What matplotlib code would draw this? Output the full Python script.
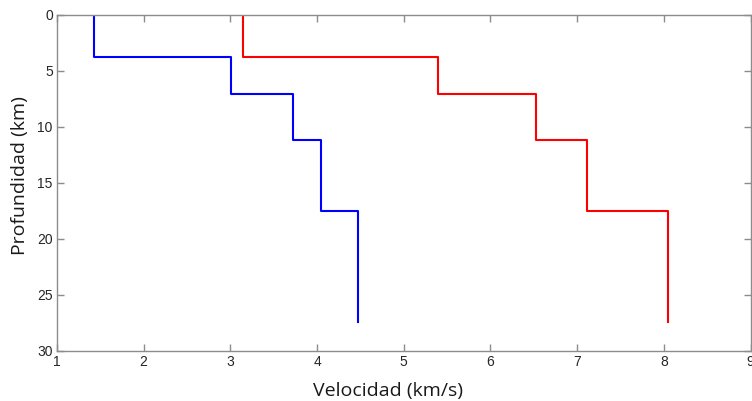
import numpy as np
import matplotlib
matplotlib.use('Agg')
import matplotlib.pyplot as plt

plt.rcParams['font.family'] = ['Liberation Sans', 'DejaVu Sans']

# layer boundaries (km) and velocities (km/s) for each layer
depth = [0, 3.75, 7.05, 11.15, 17.5, 27.45]
vs = [1.43, 3.01, 3.72, 4.04, 4.47]
vp = [3.15, 5.39, 6.52, 7.11, 8.05]


def profile(depth, vel):
    # turn layer values into a staircase: each layer is a vertical segment
    x = np.repeat(vel, 2)
    y = np.column_stack([depth[:-1], depth[1:]]).ravel()
    return x, y


fig = plt.figure(figsize=(7.52, 4.01), dpi=100)
ax = fig.add_axes([57 / 752, 1 - 350.5 / 401, 693.5 / 752, 335.5 / 401])

x, y = profile(depth, vs)
ax.plot(x, y, color='#0000ff', lw=1.5)
x, y = profile(depth, vp)
ax.plot(x, y, color='#ff0000', lw=1.5)

ax.set_xlim(1, 9)
ax.set_ylim(30, 0)
ax.set_xticks(range(1, 10))
ax.set_yticks(range(0, 31, 5))

grey = '#8c8c8c'
for s in ax.spines.values():
    s.set_color(grey)
    s.set_linewidth(1.0)
ax.tick_params(direction='in', length=5, width=1, color=grey, labelcolor='#262626',
               labelsize=10, top=True, right=True, pad=3)

lab = dict(fontsize=14, color='#1a1a1a', family=['Open Sans', 'DejaVu Sans'])
ax.set_xlabel('Velocidad (km/s)', **lab)
ax.set_ylabel('Profundidad (km)', **lab)
# label positions in axes fractions
ax.xaxis.set_label_coords(0.478, -0.093)
ax.yaxis.set_label_coords(-0.04, 0.52)

fig.savefig('out.png', dpi=100)
